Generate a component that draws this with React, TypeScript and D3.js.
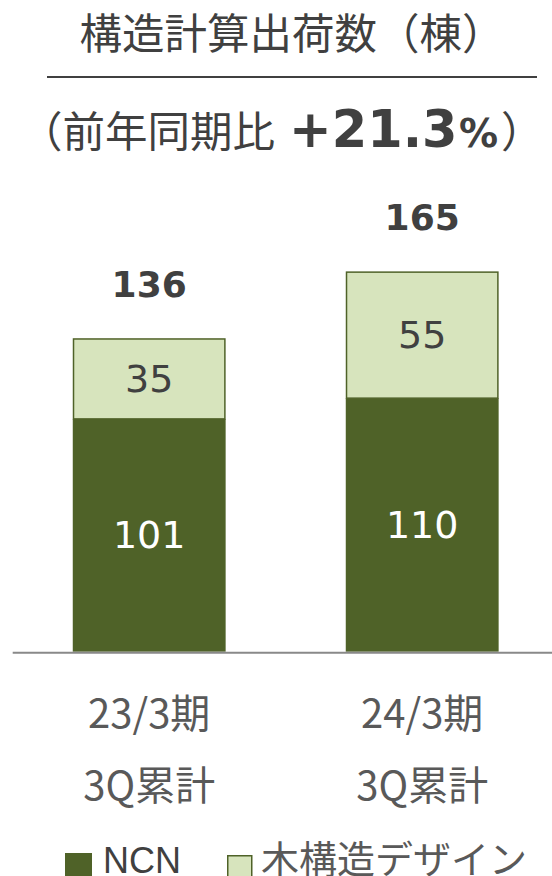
import * as d3 from 'd3';

const W = 552;
const H = 876;

const CATEGORIES = ['23/3期\n3Q累計', '24/3期\n3Q累計'];
const NCN = [101, 110];
const WOOD = [35, 55];
const TOTALS = [136, 165];

const DARK = '#4f6228';
const LIGHT = '#d7e4bd';
const TEXT = '#404040';
const AXIS_TEXT = '#595959';
const JP = '"Noto Sans CJK JP", "Noto Sans", sans-serif';
const NUM = '"DejaVu Sans", Verdana, sans-serif';

export default function App() {
  // two bars, gap between them about 0.44 of a step
  const x = d3.scaleBand<string>()
    .domain(CATEGORIES)
    .range([12.7, 558.7])
    .paddingInner(0.44)
    .paddingOuter(0.22);

  const y = d3.scaleLinear().domain([0, 180]).range([651.7, 236.8]);
  const bw = x.bandwidth();

  return (
    <svg width={W} height={H} style={{ position: 'absolute', left: 0, top: 0, display: 'block' }}>
      <rect width={W} height={H} fill="#fff" />

      {/* title */}
      <text x={292} y={49} textAnchor="middle" fontFamily={JP} fontSize={42.5} fill={TEXT}>
        構造計算出荷数（棟）
      </text>
      <line x1={47} x2={537} y1={77} y2={77} stroke={TEXT} strokeWidth={2} />

      <text y={147} fontFamily={JP} fill={TEXT}>
        <tspan x={20} fontSize={42.5}>（前年同期比</tspan>
        <tspan x={289} fontFamily={NUM} fontSize={51} fontWeight={700}>+21.3</tspan>
        <tspan x={459} fontFamily={NUM} fontSize={39} fontWeight={700}>%</tspan>
        <tspan x={501} fontSize={42.5}>）</tspan>
      </text>

      {CATEGORIES.map((c, i) => {
        const x0 = x(c)!;
        const cx = x0 + bw / 2;
        const yN = y(NCN[i]);
        const yT = y(NCN[i] + WOOD[i]);
        return (
          <g key={c}>
            <rect x={x0} y={yN} width={bw} height={y(0) - yN} fill={DARK} />
            <rect x={x0 + 0.75} y={yT + 0.75} width={bw - 1.5} height={yN - yT - 0.75}
              fill={LIGHT} stroke={DARK} strokeWidth={1.5} />
            <text x={cx} y={(yN + y(0)) / 2 + 13} textAnchor="middle" fontFamily={NUM}
              fontSize={38} fill="#fff">{NCN[i]}</text>
            <text x={cx} y={(yT + yN) / 2 + 13} textAnchor="middle" fontFamily={NUM}
              fontSize={38} fill={TEXT}>{WOOD[i]}</text>
            <text x={cx} y={y(TOTALS[i]) - 41} textAnchor="middle" fontFamily={NUM}
              fontSize={36} fontWeight={700} fill={TEXT}>{TOTALS[i]}</text>
            {c.split('\n').map((line, j) => (
              <text key={j} x={cx} y={728 + j * 72} textAnchor="middle" fontFamily={JP}
                fontSize={40} fill={AXIS_TEXT}>{line}</text>
            ))}
          </g>
        );
      })}

      <line x1={12.7} x2={552} y1={y(0) + 1} y2={y(0) + 1} stroke="#898989" strokeWidth={2} />

      {/* legend */}
      <rect x={65} y={853} width={27} height={27} fill={DARK} />
      <text x={103} y={873} fontFamily={'"Liberation Sans", Arial, sans-serif'} fontSize={36} fill={TEXT}>NCN</text>
      <rect x={227.75} y={855.75} width={24} height={24} fill={LIGHT} stroke={DARK} strokeWidth={1.5} />
      <text x={261} y={873} fontFamily={JP} fontSize={38} fill={AXIS_TEXT}>木構造デザイン</text>
    </svg>
  );
}
